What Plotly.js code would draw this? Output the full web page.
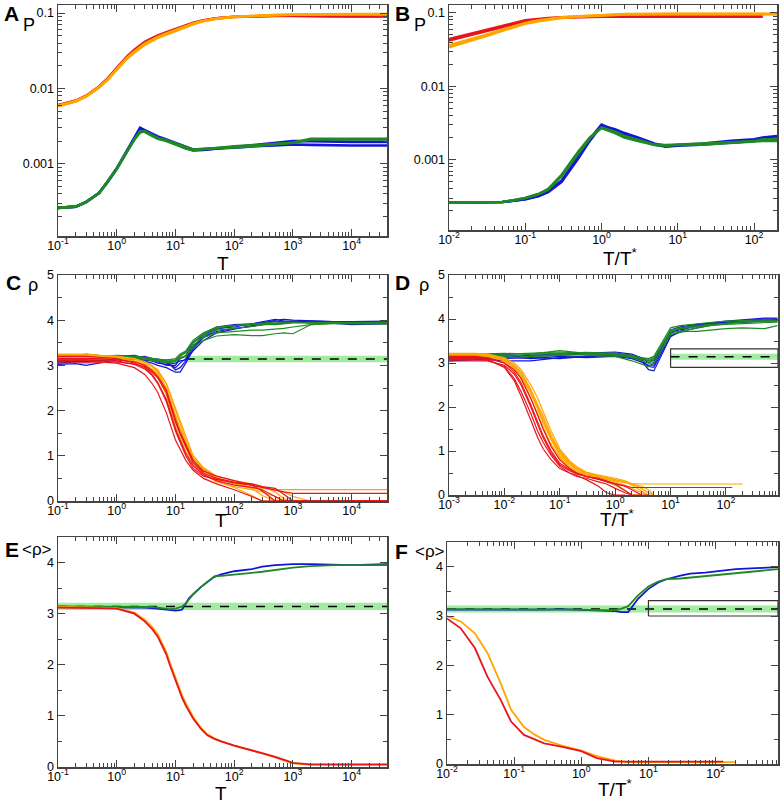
<!DOCTYPE html>
<html><head><meta charset="utf-8">
<script src="https://cdn.plot.ly/plotly-3.0.1.min.js"></script>
<style>body{margin:0;background:#fff}#plot{width:782px;height:804px}</style>
</head><body><div id="plot"></div><script>
// ---------------- DATA ----------------
// Panel A : P vs T
const A_T = [0.1,0.2,0.3,0.5,0.7,1,1.5,2,2.5,3,4,5,7,10,15,20,30,50,100,200,500,1000,2000,5000,10000,40000];
const A_red1 = [0.0060,0.0069,0.0080,0.0106,0.0136,0.0188,0.0265,0.0325,0.0375,0.0415,0.0465,0.0505,0.0555,0.0615,0.0685,0.0745,0.0805,0.0855,0.0895,0.0910,0.0920,0.0920,0.0910,0.0910,0.0910,0.0910];
const A_red2 = [0.0059,0.0068,0.0079,0.0104,0.0133,0.0183,0.0258,0.0318,0.0366,0.0405,0.0455,0.0495,0.0545,0.0605,0.0675,0.0735,0.0795,0.0850,0.0890,0.0905,0.0915,0.0915,0.0905,0.0900,0.0900,0.0900];
const A_or1 = [0.0058,0.0067,0.0078,0.0103,0.0130,0.0178,0.0250,0.0300,0.0345,0.0380,0.0430,0.0470,0.0520,0.0580,0.0660,0.0710,0.0780,0.0840,0.0890,0.0920,0.0940,0.0950,0.0960,0.0960,0.0960,0.0960];
const A_or2 = [0.0059,0.0068,0.0079,0.0104,0.0132,0.0182,0.0255,0.0310,0.0355,0.0392,0.0442,0.0482,0.0535,0.0595,0.0670,0.0725,0.0790,0.0848,0.0895,0.0925,0.0945,0.0955,0.0965,0.0970,0.0970,0.0970];
const A_blue1 = [0.00026,0.00027,0.00031,0.00041,0.00058,0.00087,0.0015,0.0022,0.0030,0.0028,0.0025,0.0023,0.0021,0.0019,0.0017,0.00155,0.00155,0.0016,0.00163,0.0017,0.00175,0.0018,0.00178,0.00175,0.00175,0.00175];
const A_blue2 = [0.00026,0.00027,0.00031,0.00041,0.00057,0.00085,0.00148,0.00215,0.0029,0.0027,0.0024,0.0022,0.00205,0.00185,0.0016,0.0015,0.00152,0.00158,0.00165,0.00175,0.0019,0.0020,0.0020,0.00195,0.00195,0.00195];
const A_green1 = [0.00026,0.00027,0.00031,0.00041,0.00058,0.00086,0.00145,0.0021,0.0026,0.0027,0.0024,0.0022,0.00205,0.00185,0.00165,0.00155,0.00158,0.0016,0.00165,0.0017,0.0018,0.0019,0.0021,0.0021,0.0021,0.0021];
const A_green2 = [0.00026,0.00027,0.00031,0.00041,0.00058,0.00086,0.00146,0.00212,0.0027,0.00265,0.00235,0.00215,0.002,0.0018,0.0016,0.00152,0.00155,0.00162,0.0017,0.00175,0.00185,0.0019,0.00215,0.00215,0.00215,0.00215];

// Panel B : P vs T/T*
const B_T = [0.01,0.02,0.03,0.05,0.07,0.1,0.15,0.2,0.3,0.5,0.7,1,1.5,2,3,5,7,10,20,50,100,130,200];
const B_red1 = [0.044,0.052,0.058,0.066,0.072,0.079,0.083,0.085,0.087,0.089,0.089,0.090,0.090,0.090,0.090,0.090,0.090,0.090,0.090,0.090,0.090,0.090,null];
const B_red2 = [0.042,0.050,0.056,0.064,0.070,0.077,0.082,0.084,0.086,0.088,0.089,0.089,0.089,0.089,0.089,0.089,0.089,0.089,0.089,0.089,0.089,0.089,null];
const B_or1 = [0.034,0.042,0.048,0.057,0.064,0.071,0.077,0.081,0.085,0.089,0.091,0.093,0.094,0.095,0.096,0.096,0.096,0.096,0.096,0.096,0.096,0.096,0.096];
const B_or2 = [0.036,0.044,0.050,0.059,0.066,0.073,0.079,0.083,0.087,0.090,0.092,0.094,0.095,0.096,0.097,0.097,0.097,0.097,0.097,0.097,0.097,0.097,0.097];
const B_blue1 = [0.00026,0.00026,0.00026,0.000265,0.000275,0.00029,0.00032,0.00037,0.00052,0.0011,0.0019,0.0030,0.0025,0.0022,0.0019,0.0016,0.0015,0.00155,0.0016,0.0017,0.0018,0.0019,0.0020];
const B_blue2 = [0.00026,0.00026,0.00026,0.000265,0.000275,0.00029,0.00032,0.00036,0.0005,0.00105,0.0018,0.0029,0.0026,0.0023,0.002,0.00165,0.00155,0.00158,0.00165,0.0018,0.0019,0.002,0.0021];
const B_green1 = [0.00026,0.00026,0.00026,0.000265,0.00028,0.0003,0.00034,0.0004,0.00062,0.0013,0.002,0.0027,0.0023,0.002,0.0018,0.00158,0.00155,0.00158,0.0016,0.0017,0.00175,0.0018,0.0018];
const B_green2 = [0.00026,0.00026,0.00026,0.000265,0.00028,0.0003,0.00034,0.00039,0.0006,0.00125,0.00195,0.00275,0.0024,0.0021,0.00185,0.0016,0.00158,0.0016,0.00165,0.00172,0.00178,0.0019,0.0019];

// Panel C : rho vs T (individual runs)
const C_T = [0.1,0.2,0.3,0.5,1,2,3,4,5,7,10,12,15,20,30,50,100,200,300,500,700,1000,2000,5000,10000,40000];
const C_blue = [
 [3.02,3.04,3.0,3.05,3.12,3.15,3.1,3.05,3.0,2.95,2.85,2.85,3.05,3.35,3.62,3.8,3.88,3.9,3.92,4.0,4.02,4.0,3.98,3.97,3.97,3.98],
 [3.08,3.1,3.08,3.1,3.15,3.18,3.2,3.15,3.1,3.05,2.95,3.05,3.15,3.42,3.66,3.82,3.85,3.92,3.95,3.97,3.98,3.98,3.96,3.95,3.92,3.95],
 [3.1,3.12,3.13,3.15,3.2,3.22,3.17,3.12,3.08,3.0,3.0,3.15,3.22,3.5,3.7,3.85,3.9,3.92,3.96,4.02,3.98,3.96,3.98,3.96,3.96,3.96],
 [3.05,3.08,3.1,3.12,3.14,3.14,3.12,3.1,3.05,3.02,3.05,3.1,3.12,3.32,3.55,3.72,3.8,3.88,3.9,3.93,3.94,3.95,3.95,3.93,3.9,3.92],
 [3.12,3.13,3.15,3.15,3.16,3.15,3.16,3.15,3.14,3.1,2.9,2.95,3.1,3.4,3.62,3.75,3.82,3.86,3.9,3.92,3.95,3.97,3.94,3.94,3.94,3.94]
];
const C_green = [
 [3.15,3.2,3.25,3.22,3.2,3.18,3.15,3.12,3.12,3.1,3.1,3.2,3.28,3.52,3.7,3.82,3.88,3.9,3.92,3.93,3.94,3.95,3.95,3.95,3.95,3.95],
 [3.12,3.14,3.15,3.17,3.18,3.2,3.18,3.15,3.14,3.12,3.15,3.25,3.32,3.56,3.72,3.85,3.88,3.92,3.94,3.96,3.96,3.95,3.94,3.94,3.93,3.93],
 [3.1,3.12,3.12,3.14,3.15,3.15,3.14,3.1,3.1,3.05,3.08,3.15,3.2,3.45,3.62,3.72,3.75,3.78,3.78,3.8,3.82,3.85,3.9,3.93,3.92,3.92],
 [3.14,3.15,3.16,3.15,3.17,3.18,3.15,3.12,3.1,3.08,3.1,3.18,3.2,3.4,3.55,3.65,3.68,3.66,3.66,3.7,3.72,3.7,3.9,3.93,3.93,3.93],
 [3.18,3.2,3.2,3.2,3.22,3.2,3.18,3.15,3.13,3.12,3.12,3.22,3.3,3.5,3.66,3.78,3.82,3.86,3.9,3.9,3.92,3.94,3.94,3.95,3.94,3.94]
];
const C_red = [
 [3.1,3.1,3.1,3.08,3.05,2.95,2.8,2.6,2.4,1.95,1.35,1.15,0.9,0.68,0.5,0.38,0.25,0.1,0,0,0,0,0,0,0,0],
 [3.2,3.2,3.2,3.18,3.15,3.05,2.95,2.8,2.62,2.25,1.6,1.35,1.05,0.78,0.58,0.45,0.35,0.3,0.25,0.1,0,0,0,0,0,0],
 [3.12,3.12,3.12,3.1,3.1,3.02,2.92,2.78,2.6,2.2,1.55,1.3,1.0,0.72,0.55,0.48,0.4,0.35,0.3,0.25,0.2,0.17,0.17,0.17,0.17,0.17],
 [3.05,3.05,3.06,3.06,3.08,3.03,2.97,2.85,2.72,2.4,1.75,1.48,1.2,0.85,0.62,0.5,0.42,0.38,0.32,0.28,0.15,0,0,0,0,0],
 [3.15,3.15,3.15,3.15,3.12,3.08,3.0,2.88,2.75,2.45,1.8,1.52,1.25,0.9,0.66,0.55,0.45,0.35,0.22,0,0,0,0,0,0,0]
];
const C_orange = [
 [3.25,3.25,3.25,3.22,3.2,3.14,3.08,2.98,2.85,2.5,1.9,1.6,1.3,0.95,0.7,0.5,0.4,0.3,0.28,0.25,0.25,0.25,0.25,0.25,0.25,0.25],
 [3.2,3.2,3.2,3.2,3.18,3.1,3.03,2.92,2.8,2.45,1.75,1.5,1.2,0.85,0.62,0.45,0.3,0.12,0,0,0,0,0,0,0,0],
 [3.22,3.22,3.22,3.2,3.18,3.14,3.06,2.98,2.88,2.6,2.0,1.7,1.35,1.0,0.74,0.55,0.45,0.38,0.32,0.2,0.05,0,0,0,0,0],
 [3.18,3.18,3.18,3.17,3.15,3.08,3.0,2.88,2.75,2.35,1.65,1.4,1.1,0.8,0.6,0.42,0.32,0.25,0.2,0.1,0,0,0,0,0,0],
 [3.15,3.15,3.16,3.16,3.15,3.08,3.02,2.92,2.82,2.5,1.85,1.58,1.25,0.92,0.68,0.5,0.4,0.35,0.3,0.25,0.2,0.1,0,0,0,0],
 [3.24,3.24,3.23,3.22,3.2,3.15,3.08,3.0,2.9,2.6,2.05,1.75,1.4,1.0,0.72,0.52,0.38,0.28,0.12,0,0,0,0,0,0,0]
];

// Panel D : rho vs T/T* (individual runs)
const D_T_bg = [0.001,0.003,0.01,0.03,0.1,0.3,1,2,3,4,5,7,10,15,20,30,50,100,200,500,850];
const D_blue = [
 [3.05,3.08,3.1,3.12,3.1,3.15,3.18,3.15,3.05,2.85,2.82,3.2,3.6,3.72,3.8,3.85,3.88,3.92,3.96,4.0,4.0],
 [3.12,3.15,3.12,3.18,3.2,3.22,3.25,3.2,3.12,3.0,3.0,3.35,3.75,3.82,3.85,3.88,3.9,3.95,3.98,4.02,4.02],
 [3.1,3.1,3.05,3.05,3.12,3.15,3.18,3.12,3.08,2.92,2.9,3.25,3.62,3.7,3.75,3.8,3.85,3.9,3.92,3.95,3.97],
 [3.15,3.18,3.2,3.15,3.18,3.2,3.22,3.18,3.1,3.05,3.05,3.4,3.7,3.78,3.82,3.86,3.9,3.93,3.97,3.98,3.95],
 [3.08,3.1,3.15,3.1,3.15,3.12,3.15,3.1,3.02,2.95,2.95,3.3,3.68,3.76,3.8,3.84,3.88,3.92,3.96,3.99,3.98]
];
const D_green = [
 [3.18,3.2,3.2,3.22,3.25,3.22,3.2,3.18,3.12,3.1,3.15,3.45,3.8,3.85,3.87,3.9,3.92,3.95,3.97,3.98,3.98],
 [3.12,3.14,3.15,3.2,3.28,3.22,3.18,3.12,3.05,3.0,3.08,3.4,3.75,3.8,3.82,3.85,3.88,3.9,3.93,3.95,3.96],
 [3.15,3.16,3.18,3.15,3.2,3.18,3.15,3.05,2.98,2.92,3.0,3.3,3.65,3.7,3.72,3.72,3.75,3.78,3.8,3.78,3.85],
 [3.2,3.2,3.22,3.2,3.22,3.24,3.22,3.15,3.1,3.08,3.12,3.42,3.72,3.78,3.8,3.82,3.85,3.9,3.94,3.96,3.96],
 [3.1,3.12,3.12,3.15,3.18,3.2,3.2,3.15,3.08,3.05,3.1,3.38,3.7,3.72,3.75,3.8,3.85,3.88,3.9,3.92,3.93]
];
const D_T_ro = [0.001,0.003,0.005,0.01,0.015,0.02,0.03,0.04,0.05,0.07,0.1,0.15,0.2,0.3,0.5,0.7,1,1.5,2,3,4,5,10,50,130,200];
const D_red = [
 [3.1,3.1,3.08,2.9,2.6,2.25,1.7,1.3,1.05,0.8,0.6,0.5,0.45,0.35,0.2,0.05,0,0,null,null,null,null,null,null,null,null],
 [3.05,3.05,3.05,2.95,2.75,2.5,2.0,1.6,1.3,0.95,0.68,0.55,0.48,0.42,0.35,0.3,0.25,0.2,0.17,0.17,0.17,0.17,0.17,0.17,0.17,null],
 [3.15,3.15,3.12,3.0,2.8,2.55,2.05,1.65,1.35,1.0,0.72,0.58,0.5,0.42,0.38,0.32,0.25,0.1,0,0,null,null,null,null,null,null],
 [3.08,3.08,3.06,2.92,2.65,2.35,1.85,1.45,1.2,0.9,0.65,0.5,0.42,0.38,0.3,0.25,0.15,0.05,0,null,null,null,null,null,null,null],
 [3.12,3.12,3.1,3.0,2.85,2.65,2.2,1.8,1.5,1.1,0.8,0.6,0.5,0.42,0.36,0.3,0.25,0.2,0.12,0,0,null,null,null,null,null]
];
const D_orange = [
 [3.2,3.2,3.2,3.1,2.95,2.8,2.4,2.05,1.8,1.35,1.0,0.75,0.62,0.5,0.42,0.38,0.32,0.28,0.26,0.25,0.25,0.25,0.25,0.25,0.25,0.25],
 [3.18,3.18,3.18,3.08,2.9,2.7,2.3,1.95,1.65,1.25,0.9,0.65,0.55,0.45,0.38,0.3,0.22,0.1,0,0,null,null,null,null,null,null],
 [3.22,3.22,3.2,3.12,3.0,2.85,2.5,2.2,1.9,1.45,1.05,0.78,0.65,0.52,0.45,0.42,0.38,0.32,0.25,0.15,0.05,0,null,null,null,null],
 [3.15,3.15,3.15,3.05,2.88,2.65,2.2,1.85,1.55,1.15,0.85,0.62,0.52,0.45,0.4,0.35,0.3,0.22,0.15,0.05,0,null,null,null,null,null],
 [3.2,3.2,3.19,3.1,2.95,2.78,2.38,2.0,1.72,1.3,0.95,0.7,0.58,0.48,0.42,0.38,0.35,0.3,0.22,0.1,0,0,null,null,null,null],
 [3.16,3.16,3.16,3.06,2.92,2.75,2.35,2.0,1.7,1.3,0.98,0.72,0.6,0.5,0.44,0.4,0.35,0.3,0.25,0.2,0.12,0,null,null,null,null]
];

// Panel E : <rho> vs T
const E_T = [0.1,0.2,0.5,1,2,3,4,5,7,8,10,12,13,15,17,20,27,35,46,60,100,200,300,500,800,1000,2000,5000,10000,40000];
const E_blue = [3.13,3.13,3.13,3.13,3.13,3.12,3.11,3.1,3.08,3.07,3.06,3.07,3.08,3.2,3.3,3.38,3.52,3.62,3.72,3.77,3.83,3.87,3.92,3.95,3.96,3.97,3.97,3.96,3.95,3.97];
const E_green = [3.14,3.14,3.14,3.14,3.14,3.13,3.13,3.12,3.1,3.09,3.1,3.12,3.14,3.2,3.28,3.38,3.52,3.63,3.73,3.74,3.76,3.8,3.82,3.86,3.89,3.9,3.93,3.95,3.95,3.95];
const E_red = [3.12,3.12,3.11,3.1,3.0,2.85,2.7,2.55,2.2,2.0,1.7,1.45,1.35,1.2,1.08,0.95,0.75,0.62,0.55,0.5,0.42,0.33,0.28,0.2,0.12,0.08,0.05,0.05,0.05,0.05];
const E_orange = [3.13,3.13,3.12,3.11,3.02,2.88,2.74,2.6,2.25,2.05,1.75,1.5,1.4,1.25,1.12,0.98,0.77,0.64,0.56,0.5,0.42,0.33,0.27,0.19,0.11,0.07,0.04,0.04,0.04,0.04];

// Panel F : <rho> vs T/T*
const F_T = [0.01,0.016,0.026,0.04,0.063,0.09,0.14,0.2,0.28,0.5,1,1.7,3.2,4,5,7,10,14,19,30,42,70,130,200,400,850];
const F_red = [2.95,2.75,2.35,1.77,1.3,0.86,0.59,0.5,0.42,0.35,0.26,0.12,0.05,0.05,0.05,0.05,0.05,0.05,0.05,0.05,0.05,0.05,0.05,null,null,null];
const F_orange = [3.0,2.89,2.65,2.25,1.64,1.1,0.75,0.6,0.49,0.38,0.27,0.16,0.07,0.05,0.04,0.04,0.04,0.04,0.04,0.04,0.04,0.04,0.04,0.04,null,null];
const F_blue = [3.13,3.13,3.12,3.12,3.13,3.13,3.12,3.12,3.13,3.14,3.13,3.12,3.1,3.08,3.08,3.35,3.55,3.68,3.75,3.82,3.86,3.88,3.93,3.95,3.97,3.99];
const F_green = [3.14,3.14,3.14,3.14,3.14,3.14,3.14,3.14,3.14,3.14,3.13,3.12,3.12,3.15,3.2,3.42,3.6,3.7,3.75,3.76,3.78,3.8,3.84,3.87,3.91,3.95];

// reference value (pi) with its band, and highlighted windows
const RHO_REF = 3.1416;
const RHO_BAND = 0.07;
const C_BAND_START = 15;
const D_BOX = {x0: 10, y0: 2.9, y1: 3.32};
const F_BOX = {x0: 10, y0: 3.0, y1: 3.31};

// axis extents
const T_MIN = 0.1, T_MAX = 40000;
const B_MIN = 0.01, B_MAX = 200;
const D_MIN = 0.001, D_MAX = 870;
const F_MIN = 0.01, F_MAX = 850;
const P_MIN = 1.1e-4, P_MAX = 0.128;

const X_TICKS_T = [0.1,1,10,100,1000,10000];
const X_TICKS_B = [0.01,0.1,1,10,100];
const X_TICKS_D = [0.001,0.01,0.1,1,10,100];
const Y_TICKS_P = [0.001,0.01,0.1];
const Y_LABELS_P = ['0.001','0.01','0.1'];

// ---------------- STYLE ----------------
const RED = '#e8141c', ORANGE = '#ffa500', BLUE = '#1515d8', GREEN = '#1f8a24';
const BANDCOL = 'rgba(130,230,130,0.75)';
const W = 782, H = 804;
const FONT = 'Liberation Sans, Arial, Helvetica, sans-serif';

const traces = [];
function line(sp, x, y, color, width, dash) {
  traces.push({type:'scatter', mode:'lines', x:x, y:y, xaxis:'x'+(sp===1?'':sp), yaxis:'y'+(sp===1?'':sp),
    line:{color:color, width:width, dash:dash||'solid'}, connectgaps:false, showlegend:false, hoverinfo:'skip'});
}
function band(sp, x0, x1) {
  traces.push({type:'scatter', mode:'lines', x:[x0,x1,x1,x0,x0],
    y:[RHO_REF-RHO_BAND,RHO_REF-RHO_BAND,RHO_REF+RHO_BAND,RHO_REF+RHO_BAND,RHO_REF-RHO_BAND],
    fill:'toself', fillcolor:BANDCOL, line:{width:0}, xaxis:'x'+sp, yaxis:'y'+sp, showlegend:false, hoverinfo:'skip'});
  line(sp, [x0,x1], [RHO_REF,RHO_REF], '#000', 1.6, 'dash');
}
function box(sp, b, x1) {
  line(sp, [b.x0,x1,x1,b.x0,b.x0], [b.y0,b.y0,b.y1,b.y1,b.y0], '#333', 1.2);
}

// A
[A_blue1,A_blue2].forEach(y=>line(1,A_T,y,BLUE,2.6));
[A_green1,A_green2].forEach(y=>line(1,A_T,y,GREEN,2.6));
[A_red1,A_red2].forEach(y=>line(1,A_T,y,RED,2.6));
[A_or1,A_or2].forEach(y=>line(1,A_T,y,ORANGE,2.6));
// B
[B_blue1,B_blue2].forEach(y=>line(2,B_T,y,BLUE,2.6));
[B_green1,B_green2].forEach(y=>line(2,B_T,y,GREEN,2.6));
[B_red1,B_red2].forEach(y=>line(2,B_T,y,RED,2.6));
[B_or1,B_or2].forEach(y=>line(2,B_T,y,ORANGE,2.6));
// C
band(3, C_BAND_START, T_MAX);
C_blue.forEach(y=>line(3,C_T,y,BLUE,1.2));
C_green.forEach(y=>line(3,C_T,y,GREEN,1.2));
C_orange.forEach(y=>line(3,C_T,y,ORANGE,1.2));
C_red.forEach(y=>line(3,C_T,y,RED,1.2));
// D
band(4, D_BOX.x0, D_MAX);
box(4, D_BOX, D_MAX);
D_blue.forEach(y=>line(4,D_T_bg,y,BLUE,1.2));
D_green.forEach(y=>line(4,D_T_bg,y,GREEN,1.2));
D_orange.forEach(y=>line(4,D_T_ro,y,ORANGE,1.2));
D_red.forEach(y=>line(4,D_T_ro,y,RED,1.2));
// E
band(5, T_MIN, T_MAX);
line(5,E_T,E_blue,BLUE,1.8);
line(5,E_T,E_green,GREEN,1.8);
line(5,E_T,E_orange,ORANGE,1.8);
line(5,E_T,E_red,RED,1.8);
// F
band(6, F_MIN, F_MAX);
box(6, F_BOX, F_MAX);
line(6,F_T,F_blue,BLUE,1.8);
line(6,F_T,F_green,GREEN,1.8);
line(6,F_T,F_orange,ORANGE,1.8);
line(6,F_T,F_red,RED,1.8);

// ---------------- LAYOUT ----------------
function powLabel(v){ return '10<sup>'+Math.round(Math.log10(v))+'</sup>'; }
const common = {ticks:'inside', ticklen:7, tickwidth:1, tickcolor:'#444', showline:true, linecolor:'#444', linewidth:1.5,
  mirror:'allticks', showgrid:false, zeroline:false, tickfont:{size:12.5, family:FONT, color:'#000'}};
function xaxis(px0, px1, lo, hi, ticks, anchor) {
  return Object.assign({}, common, {domain:[px0/W, px1/W], type:'log', range:[Math.log10(lo), Math.log10(hi)],
    tickmode:'array', tickvals:ticks, ticktext:ticks.map(powLabel), anchor:anchor, ticklabelstandoff:-3,
    minor:{ticks:'inside', ticklen:4, tickcolor:'#444', dtick:'D1', showgrid:false}});
}
function yaxisLog(py0, py1, anchor) {
  return Object.assign({}, common, {domain:[1-py1/H, 1-py0/H], type:'log', range:[Math.log10(P_MIN), Math.log10(P_MAX)],
    tickmode:'array', tickvals:Y_TICKS_P, ticktext:Y_LABELS_P, anchor:anchor,
    minor:{ticks:'inside', ticklen:4, tickcolor:'#444', dtick:'D1', showgrid:false}});
}
function yaxisLin(py0, py1, hi, anchor) {
  return Object.assign({}, common, {domain:[1-py1/H, 1-py0/H], type:'linear', range:[0, hi],
    tickmode:'linear', tick0:0, dtick:1, anchor:anchor,
    minor:{ticks:'inside', ticklen:4, tickcolor:'#444', dtick:0.5, showgrid:false}});
}

const layout = {
  width:W, height:H, margin:{l:0,r:0,t:0,b:0}, paper_bgcolor:'#fff', plot_bgcolor:'#fff', showlegend:false,
  xaxis:  xaxis(58, 387, T_MIN, T_MAX, X_TICKS_T, 'y'),
  yaxis:  yaxisLog(5, 236, 'x'),
  xaxis2: xaxis(449, 777, B_MIN, B_MAX, X_TICKS_B, 'y2'),
  yaxis2: yaxisLog(5, 230, 'x2'),
  xaxis3: xaxis(58, 387, T_MIN, T_MAX, X_TICKS_T, 'y3'),
  yaxis3: yaxisLin(275, 501, 5, 'x3'),
  xaxis4: xaxis(449, 778, D_MIN, D_MAX, X_TICKS_D, 'y4'),
  yaxis4: yaxisLin(275, 495, 5, 'x4'),
  xaxis5: xaxis(58, 387, T_MIN, T_MAX, X_TICKS_T, 'y5'),
  yaxis5: yaxisLin(537, 767, 4.5, 'x5'),
  xaxis6: xaxis(447, 778, F_MIN, F_MAX, X_TICKS_B, 'y6'),
  yaxis6: yaxisLin(542, 764, 4.5, 'x6'),
  annotations: []
};
function ann(text, px, py, size, bold) {
  layout.annotations.push({xref:'paper', yref:'paper', x:px/W, y:1-py/H, xanchor:'center', yanchor:'middle',
    showarrow:false, text: bold ? '<b>'+text+'</b>' : text, font:{size:size, family:FONT, color:'#000'}});
}
// panel letters
ann('A', 11, 14, 21, true);  ann('B', 402, 14, 21, true);
ann('C', 13, 282, 21, true); ann('D', 402, 282, 21, true);
ann('E', 12, 549, 21, true); ann('F', 401, 551, 21, true);
// quantity labels
ann('P', 29, 25, 18); ann('P', 420, 25, 18);
ann('ρ', 33, 285, 18); ann('ρ', 424, 285, 18);
ann('&lt;ρ&gt;', 37, 549, 17); ann('&lt;ρ&gt;', 430, 551, 17);
// x-axis titles
ann('T', 223, 263, 19); ann('T/T<sup>*</sup>', 620, 257, 19);
ann('T', 221, 520, 19); ann('T/T<sup>*</sup>', 617, 518, 19);
ann('T', 221, 793, 19); ann('T/T<sup>*</sup>', 615, 788, 19);

Plotly.newPlot('plot', traces, layout, {staticPlot:true, displayModeBar:false});
</script></body></html>
